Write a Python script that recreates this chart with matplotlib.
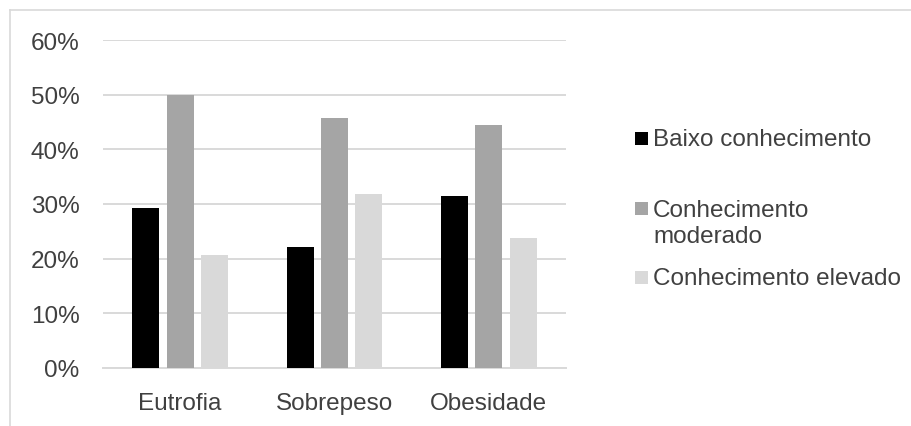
import matplotlib.pyplot as plt
from matplotlib.patches import Rectangle
import numpy as np

plt.rcParams['font.family'] = ['Liberation Sans', 'DejaVu Sans']

# Nutritional status groups and knowledge levels (share of each group)
categories = ['Eutrofia', 'Sobrepeso', 'Obesidade']
series_names = ['Baixo conhecimento', 'Conhecimento\nmoderado', 'Conhecimento elevado']
baixo = [0.293, 0.221, 0.315]
moderado = [0.500, 0.458, 0.445]
elevado = [0.206, 0.319, 0.238]
y_ticks = [0.0, 0.1, 0.2, 0.3, 0.4, 0.5, 0.6]
y_tick_labels = ['0%', '10%', '20%', '30%', '40%', '50%', '60%']

colors = ['#000000', '#a5a5a5', '#d9d9d9']
text_color = '#404040'
grid_color = '#d9d9d9'

W, H = 912, 427
fig = plt.figure(figsize=(W / 100, H / 100), dpi=100)
ax = fig.add_axes([103 / W, 58 / H, 463 / W, 328 / H])

x = np.arange(len(categories))
width = 0.175
step = 0.222
for i, (vals, c) in enumerate(zip([baixo, moderado, elevado], colors)):
    ax.bar(x + (i - 1) * step, vals, width, color=c, zorder=3)

ax.set_xlim(-0.5, 2.5)
ax.set_ylim(0, 0.6)
ax.set_yticks(y_ticks)
ax.set_yticklabels(y_tick_labels)
ax.set_xticks(x)
ax.set_xticklabels(categories)
ax.tick_params(axis='both', length=0, labelsize=17.5, colors=text_color)
ax.tick_params(axis='y', pad=17)
ax.tick_params(axis='x', pad=17)
ax.grid(axis='y', color=grid_color, linewidth=1.4, zorder=0)
for side in ['top', 'right', 'left']:
    ax.spines[side].set_visible(False)
ax.spines['bottom'].set_color(grid_color)
ax.spines['bottom'].set_linewidth(1.4)

# chart frame (top and left edges)
fig.add_artist(plt.Line2D([10 / W, 1], [1 - 11 / H, 1 - 11 / H], color=grid_color,
                          linewidth=1.2, transform=fig.transFigure))
fig.add_artist(plt.Line2D([10 / W, 10 / W], [0, 1 - 11 / H], color=grid_color,
                          linewidth=1.2, transform=fig.transFigure))

# legend drawn by hand
legend_y = [140, 224, 279]
square_y = [139, 209, 278]
for name, c, yc, sq_y in zip(series_names, colors, legend_y, square_y):
    fig.add_artist(Rectangle((635 / W, 1 - (sq_y + 6.5) / H), 13 / W, 13 / H,
                             facecolor=c, edgecolor='none', transform=fig.transFigure))
    fig.text(653 / W, 1 - yc / H, name, fontsize=17.5, color=text_color,
             va='center', ha='left', linespacing=1.2)

fig.savefig('out.png', dpi=100)
